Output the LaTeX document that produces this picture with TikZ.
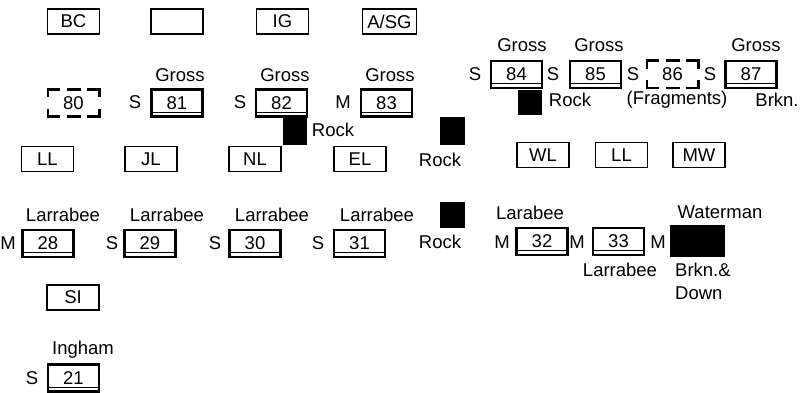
\documentclass[tikz,border=0pt]{standalone}
\usepackage{fontspec}
\setmainfont{Liberation Sans}
\begin{document}
\begin{tikzpicture}[x=1pt,y=-1pt,
 every node/.style={font=\fontsize{18.5}{21}\selectfont, inner sep=0pt},
 lbox/.style={draw, line width=1.3pt, minimum width=52pt, minimum height=25pt},
 nbox/.style={draw, line width=2.6pt, minimum width=51pt, minimum height=27pt,
   path picture={\draw[line width=0.9pt] ([yshift=4.5pt]path picture bounding box.south west) -- ([yshift=4.5pt]path picture bounding box.south east);}},
 dbox/.style={minimum width=51pt, minimum height=27pt},
 dline/.style={line width=2.6pt},
 blk/.style={fill=black, draw=none},
 lab/.style={}
]
\useasboundingbox (0,0) rectangle (800,393);
% row 1
\node[lbox] (bc) at (73.5,21.5) {BC};
\node[lbox] (blank) at (177,21.5) {};
\node[lbox] (ig) at (282.5,21.5) {IG};
\node[lbox, minimum width=54pt] (asg) at (389.5,21.5) {A/SG};
% row 2 left
\node[dbox] (b80) at (73.5,103) {80};
\node[nbox] (b81) at (177,103) {81};
\node[nbox] (b82) at (281.5,103) {82};
\node[nbox] (b83) at (386.5,103) {83};
\node[lab] (g81) at (180,75) {Gross};
\node[lab] (g82) at (285,75) {Gross};
\node[lab] (g83) at (390,75) {Gross};
\node[lab] (s81) at (135,102) {S};
\node[lab] (s82) at (240,102) {S};
\node[lab] (m83) at (343,102) {M};
\node[blk, minimum width=24pt, minimum height=27pt] (r1) at (295,131.5) {};
\node[lab] (r1l) at (333,130) {Rock};
\node[blk, minimum width=25pt, minimum height=28pt] (r2) at (452.5,131) {};
\node[lab] (r2l) at (440,160) {Rock};
% row 2 right
\node[nbox] (b84) at (516.5,74.5) {84};
\node[nbox] (b85) at (595.5,74.5) {85};
\node[dbox] (b86) at (672.5,74.5) {86};
\node[nbox] (b87) at (751,74.5) {87};
\node[lab] (g84) at (522,45) {Gross};
\node[lab] (g85) at (599,45) {Gross};
\node[lab] (g87) at (756,45) {Gross};
\node[lab] (s84) at (475,74) {S};
\node[lab] (s85) at (553,74) {S};
\node[lab] (s86) at (633,74) {S};
\node[lab] (s87) at (710,74) {S};
\node[blk, minimum width=24pt, minimum height=25pt] (r3) at (530,102.5) {};
\node[lab] (r3l) at (570,100) {Rock};
\node[lab] (frag) at (677,100) {(Fragments)};
\node[lab] (brk) at (777,100) {Brkn.};
% dashed outlines
\foreach \n in {b80,b86} {
  \draw[dline] ([yshift=-8pt]\n.north west) -- (\n.north west) -- ([xshift=12pt]\n.north west);
  \draw[dline] ([xshift=-7pt]\n.north) -- ([xshift=7pt]\n.north);
  \draw[dline] ([xshift=-12pt]\n.north east) -- (\n.north east) -- ([yshift=-8pt]\n.north east);
  \draw[dline] ([yshift=8pt]\n.south west) -- (\n.south west) -- ([xshift=12pt]\n.south west);
  \draw[dline] ([xshift=-7pt]\n.south) -- ([xshift=7pt]\n.south);
  \draw[dline] ([xshift=-12pt]\n.south east) -- (\n.south east) -- ([yshift=8pt]\n.south east);
}
% row 3
\node[lbox] (ll) at (47.5,159) {LL};
\node[lbox] (jl) at (151,159) {JL};
\node[lbox] (nl) at (255,159) {NL};
\node[lbox] (el) at (360,159) {EL};
\node[lbox] (wl) at (543,155) {WL};
\node[lbox] (ll2) at (621.5,155) {LL};
\node[lbox] (mw) at (699,155) {MW};
% row 4
\node[nbox] (b28) at (48,243.5) {28};
\node[nbox] (b29) at (150,243.5) {29};
\node[nbox] (b30) at (255,243.5) {30};
\node[nbox] (b31) at (359.5,243.5) {31};
\node[lab] (l28) at (63,215) {Larrabee};
\node[lab] (l29) at (167,215) {Larrabee};
\node[lab] (l30) at (272,215) {Larrabee};
\node[lab] (l31) at (377,215) {Larrabee};
\node[lab] (m28) at (8,243) {M};
\node[lab] (s29) at (112,243) {S};
\node[lab] (s30) at (215,243) {S};
\node[lab] (s31) at (318,243) {S};
\node[blk, minimum width=25pt, minimum height=26pt] (r4) at (452.5,215) {};
\node[lab] (r4l) at (440,242) {Rock};
\node[nbox] (b32) at (542,241.5) {32};
\node[nbox] (b33) at (618.5,241.5) {33};
\node[blk, minimum width=55pt, minimum height=32pt] (wat) at (697.5,241) {};
\node[lab] (l32) at (530,213) {Larabee};
\node[lab] (l33) at (620,270) {Larrabee};
\node[lab] (watl) at (720,212) {Waterman};
\node[lab] (m32) at (502,242) {M};
\node[lab] (m33) at (577,242) {M};
\node[lab] (m34) at (658,242) {M};
\node[lab, anchor=west] (bd1) at (675,270) {Brkn.\&};
\node[lab, anchor=west] (bd2) at (675,293) {Down};
% bottom
\node[lbox] (si) at (73,297.5) {SI};
\node[lab] (ing) at (83,350) {Ingham};
\node[lab] (s21) at (32,378) {S};
\node[nbox] (b21) at (73.5,378) {21};
\end{tikzpicture}
\end{document}
